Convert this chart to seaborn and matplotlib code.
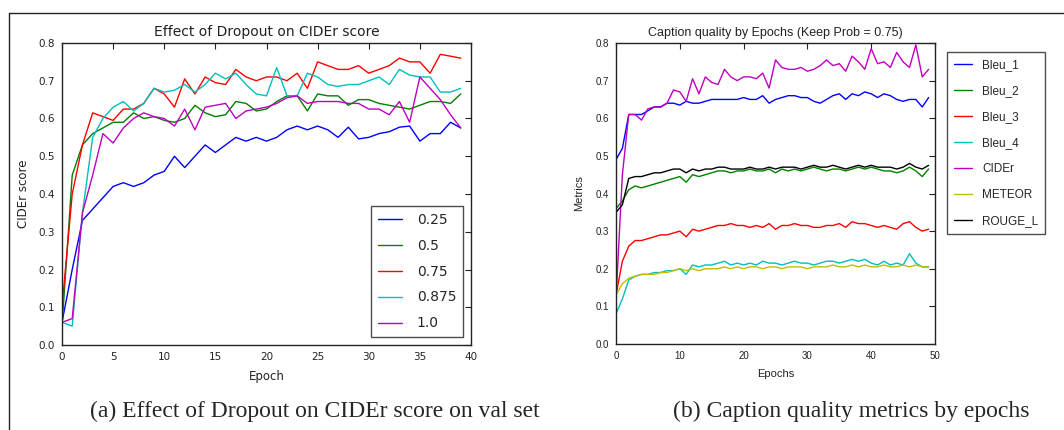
import numpy as np
import pandas as pd
import matplotlib
matplotlib.use("Agg")
import matplotlib.pyplot as plt
import seaborn as sns
from matplotlib.lines import Line2D

# Left panel: CIDEr score per epoch for each keep probability
keep_probs = ["0.25", "0.5", "0.75", "0.875", "1.0"]
cider_025 = [0.06, 0.20, 0.33, 0.36, 0.39, 0.42, 0.43, 0.42, 0.43, 0.45,
             0.46, 0.50, 0.47, 0.50, 0.53, 0.51, 0.53, 0.55, 0.54, 0.55,
             0.54, 0.55, 0.57, 0.58, 0.57, 0.58, 0.57, 0.55, 0.577, 0.546,
             0.55, 0.56, 0.565, 0.577, 0.58, 0.54, 0.56, 0.56, 0.59, 0.575]
cider_05 = [0.05, 0.45, 0.53, 0.56, 0.575, 0.59, 0.59, 0.615, 0.60, 0.605,
            0.595, 0.59, 0.60, 0.635, 0.615, 0.605, 0.61, 0.645, 0.64, 0.62,
            0.625, 0.645, 0.66, 0.66, 0.62, 0.665, 0.66, 0.66, 0.635, 0.65,
            0.65, 0.64, 0.635, 0.63, 0.625, 0.635, 0.645, 0.645, 0.64, 0.665]
cider_075 = [0.10, 0.40, 0.53, 0.615, 0.605, 0.595, 0.625, 0.625, 0.64, 0.68,
             0.665, 0.63, 0.705, 0.665, 0.71, 0.695, 0.69, 0.73, 0.71, 0.70,
             0.71, 0.71, 0.70, 0.72, 0.68, 0.75, 0.74, 0.73, 0.73, 0.74,
             0.72, 0.73, 0.74, 0.76, 0.75, 0.75, 0.72, 0.77, 0.765, 0.76]
cider_0875 = [0.06, 0.05, 0.35, 0.55, 0.60, 0.63, 0.645, 0.62, 0.64, 0.68,
              0.67, 0.675, 0.69, 0.67, 0.69, 0.72, 0.705, 0.72, 0.69, 0.665,
              0.66, 0.735, 0.66, 0.66, 0.72, 0.71, 0.69, 0.685, 0.69, 0.69,
              0.70, 0.71, 0.69, 0.73, 0.715, 0.71, 0.71, 0.67, 0.67, 0.68]
cider_10 = [0.06, 0.07, 0.35, 0.45, 0.56, 0.535, 0.575, 0.60, 0.615, 0.605,
            0.60, 0.58, 0.625, 0.57, 0.63, 0.635, 0.64, 0.60, 0.62, 0.625,
            0.63, 0.64, 0.655, 0.66, 0.64, 0.645, 0.645, 0.645, 0.64, 0.64,
            0.625, 0.625, 0.61, 0.645, 0.59, 0.71, 0.68, 0.65, 0.61, 0.575]

# Right panel: caption metrics per epoch (keep prob 0.75)
metric_names = ["Bleu_1", "Bleu_2", "Bleu_3", "Bleu_4", "CIDEr", "METEOR", "ROUGE_L"]
bleu_1 = [0.49, 0.52, 0.61, 0.61, 0.61, 0.62, 0.63, 0.63, 0.64, 0.64,
          0.635, 0.645, 0.64, 0.64, 0.645, 0.65, 0.65, 0.65, 0.65, 0.65,
          0.655, 0.65, 0.65, 0.66, 0.64, 0.65, 0.655, 0.66, 0.66, 0.655,
          0.655, 0.645, 0.64, 0.65, 0.66, 0.665, 0.65, 0.665, 0.66, 0.67,
          0.665, 0.655, 0.665, 0.66, 0.65, 0.645, 0.65, 0.65, 0.63, 0.655]
bleu_2 = [0.36, 0.38, 0.41, 0.42, 0.415, 0.42, 0.425, 0.43, 0.435, 0.44,
          0.445, 0.43, 0.45, 0.445, 0.45, 0.455, 0.46, 0.46, 0.455, 0.46,
          0.46, 0.465, 0.46, 0.46, 0.465, 0.455, 0.465, 0.46, 0.465, 0.46,
          0.465, 0.47, 0.465, 0.46, 0.465, 0.465, 0.46, 0.465, 0.47, 0.465,
          0.47, 0.465, 0.46, 0.46, 0.455, 0.46, 0.47, 0.46, 0.445, 0.465]
bleu_3 = [0.13, 0.22, 0.26, 0.275, 0.275, 0.28, 0.285, 0.29, 0.29, 0.295,
          0.30, 0.285, 0.305, 0.30, 0.305, 0.31, 0.315, 0.315, 0.32, 0.315,
          0.315, 0.31, 0.315, 0.31, 0.32, 0.305, 0.315, 0.315, 0.32, 0.315,
          0.315, 0.31, 0.31, 0.315, 0.315, 0.32, 0.31, 0.325, 0.32, 0.32,
          0.315, 0.31, 0.315, 0.31, 0.305, 0.32, 0.325, 0.31, 0.30, 0.305]
bleu_4 = [0.08, 0.12, 0.17, 0.18, 0.185, 0.185, 0.19, 0.19, 0.195, 0.195,
          0.20, 0.185, 0.21, 0.205, 0.21, 0.21, 0.215, 0.22, 0.21, 0.215,
          0.21, 0.215, 0.21, 0.22, 0.215, 0.215, 0.21, 0.215, 0.22, 0.215,
          0.215, 0.21, 0.215, 0.22, 0.22, 0.215, 0.22, 0.225, 0.22, 0.225,
          0.215, 0.21, 0.22, 0.21, 0.215, 0.21, 0.24, 0.215, 0.205, 0.205]
cider = [0.12, 0.45, 0.61, 0.61, 0.595, 0.625, 0.63, 0.63, 0.64, 0.675,
         0.67, 0.645, 0.705, 0.665, 0.71, 0.695, 0.69, 0.73, 0.71, 0.70,
         0.71, 0.71, 0.705, 0.72, 0.68, 0.755, 0.735, 0.73, 0.73, 0.735,
         0.725, 0.73, 0.74, 0.755, 0.74, 0.745, 0.725, 0.765, 0.75, 0.73,
         0.785, 0.745, 0.75, 0.735, 0.775, 0.75, 0.735, 0.795, 0.71, 0.73]
meteor = [0.13, 0.16, 0.175, 0.18, 0.185, 0.185, 0.185, 0.19, 0.19, 0.195,
          0.20, 0.195, 0.20, 0.195, 0.20, 0.20, 0.20, 0.205, 0.20, 0.205,
          0.20, 0.205, 0.205, 0.20, 0.205, 0.205, 0.20, 0.205, 0.205, 0.205,
          0.20, 0.205, 0.205, 0.205, 0.21, 0.205, 0.205, 0.21, 0.205, 0.21,
          0.205, 0.205, 0.21, 0.205, 0.205, 0.21, 0.205, 0.21, 0.205, 0.205]
rouge_l = [0.35, 0.37, 0.44, 0.445, 0.445, 0.45, 0.455, 0.455, 0.46, 0.465,
           0.465, 0.455, 0.465, 0.46, 0.465, 0.465, 0.47, 0.47, 0.465, 0.465,
           0.465, 0.47, 0.465, 0.465, 0.47, 0.465, 0.47, 0.47, 0.47, 0.465,
           0.47, 0.475, 0.47, 0.47, 0.475, 0.47, 0.465, 0.47, 0.475, 0.47,
           0.475, 0.47, 0.47, 0.47, 0.465, 0.47, 0.48, 0.47, 0.465, 0.475]

classic = ["b", "g", "r", "c", "m", "y", "k"]
ink = "#222222"


def long_frame(names, series, key):
    rows = []
    for name, vals in zip(names, series):
        for ep, v in enumerate(vals):
            rows.append({"epoch": ep, "value": v, key: name})
    return pd.DataFrame(rows)


def style_axes(ax, fs, family):
    ax.tick_params(direction="in", top=True, right=True, length=4,
                   width=0.8, labelsize=fs, colors=ink, pad=5)
    for t in ax.get_xticklabels() + ax.get_yticklabels():
        t.set_family(family)
    for s in ax.spines.values():
        s.set_color(ink)
        s.set_linewidth(1.0)


sns.set_style("white")
plt.rcParams["font.family"] = ["DejaVu Sans"]

fig = plt.figure(figsize=(10.64, 4.3), dpi=100)
ticks_y = np.arange(0, 0.81, 0.1)

# ---- left panel
df_l = long_frame(keep_probs, [cider_025, cider_05, cider_075, cider_0875, cider_10], "keep")
ax1 = fig.add_axes([62 / 1064, 85 / 430, 409 / 1064, 302 / 430])
sns.lineplot(data=df_l, x="epoch", y="value", hue="keep", palette=classic[:5],
             linewidth=1.0, ax=ax1, legend=False)
ax1.set_xlim(0, 40)
ax1.set_ylim(0, 0.8)
ax1.set_xticks(range(0, 41, 5))
ax1.set_yticks(ticks_y)
ax1.set_yticklabels([f"{v:.1f}" for v in ticks_y])
ax1.set_title("Effect of Dropout on CIDEr score", fontsize=10, color=ink, pad=5)
ax1.set_xlabel("Epoch", fontsize=8.5, color=ink, labelpad=6)
ax1.set_ylabel("CIDEr score", fontsize=8.5, color=ink, labelpad=6)
style_axes(ax1, 7.5, ["DejaVu Sans"])
h1 = [Line2D([], [], color=c, lw=1.0) for c in classic[:5]]
leg1 = ax1.legend(h1, keep_probs, loc="lower right", fontsize=10, frameon=True,
                  fancybox=False, handlelength=1.75, handletextpad=1.05,
                  borderpad=0.5, labelspacing=0.86, borderaxespad=0.55)
leg1.get_frame().set_edgecolor(ink)
leg1.get_frame().set_linewidth(1.0)

# ---- right panel
sans = ["Liberation Sans", "DejaVu Sans"]
df_r = long_frame(metric_names, [bleu_1, bleu_2, bleu_3, bleu_4, cider, meteor, rouge_l], "metric")
ax2 = fig.add_axes([616 / 1064, 86 / 430, 319 / 1064, 301 / 430])
sns.lineplot(data=df_r, x="epoch", y="value", hue="metric", palette=classic,
             linewidth=1.0, ax=ax2, legend=False)
ax2.set_xlim(0, 50)
ax2.set_ylim(0, 0.8)
ax2.set_xticks(range(0, 51, 10))
ax2.set_yticks(ticks_y)
ax2.set_yticklabels([f"{v:.1f}" for v in ticks_y])
ax2.set_title("Caption quality by Epochs (Keep Prob = 0.75)", fontsize=9,
              color=ink, pad=5, family=sans)
ax2.set_xlabel("Epochs", fontsize=8, color=ink, family=sans, labelpad=6)
ax2.set_ylabel("Metrics", fontsize=8, color=ink, family=sans, labelpad=8)
style_axes(ax2, 7, sans)
h2 = [Line2D([], [], color=c, lw=1.0) for c in classic]
leg2 = ax2.legend(h2, metric_names, loc="upper left", bbox_to_anchor=(1.037, 0.97),
                  borderaxespad=0, prop={"family": sans, "size": 8.5}, frameon=True,
                  fancybox=False, handlelength=1.5, handletextpad=0.9,
                  borderpad=0.6, labelspacing=1.18)
leg2.get_frame().set_edgecolor(ink)
leg2.get_frame().set_linewidth(1.0)

# ---- sub-captions and outer frame
fig.text(315 / 1064, 1 - 411 / 430, "(a) Effect of Dropout on CIDEr score on val set",
         family="Liberation Serif", fontsize=17, ha="center", va="center")
fig.text(851 / 1064, 1 - 411 / 430, "(b) Caption quality metrics by epochs",
         family="Liberation Serif", fontsize=17, ha="center", va="center")
fig.add_artist(Line2D([9 / 1064, 9 / 1064], [0, 1 - 13 / 430], color=ink, lw=1.0))
fig.add_artist(Line2D([9 / 1064, 1], [1 - 13 / 430, 1 - 13 / 430], color=ink, lw=1.0))

fig.savefig("out.png", dpi=100)
